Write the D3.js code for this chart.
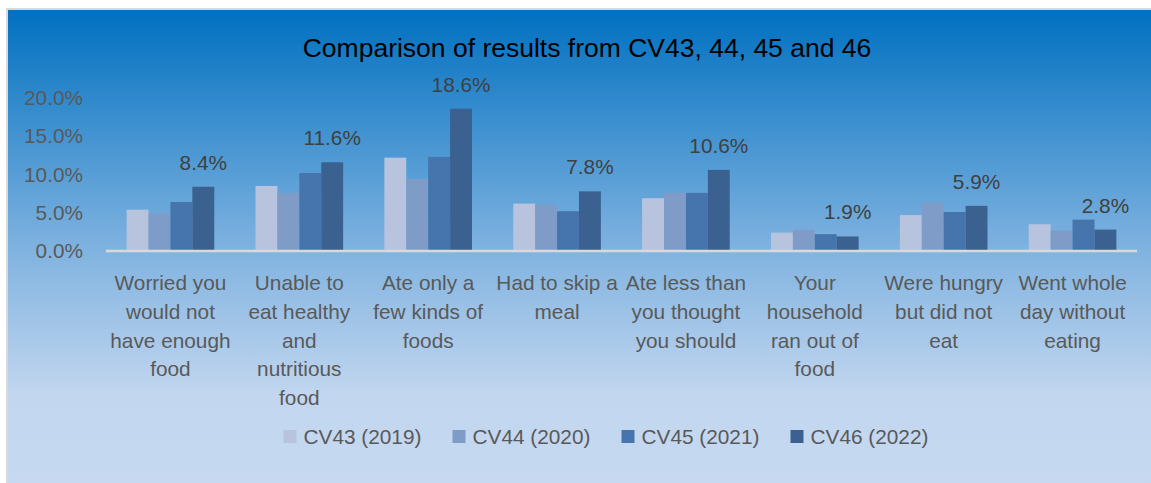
<!DOCTYPE html>
<html>
<head>
<meta charset="utf-8">
<script src="https://cdn.jsdelivr.net/npm/d3@7"></script>
<style>
  html, body { margin: 0; padding: 0; background: #ffffff; }
  svg { display: block; font-family: "Liberation Sans", Arial, sans-serif; }
</style>
</head>
<body>
<div id="canvas"></div>
<script>
"use strict"

/* Data */
let categories = [
    "Worried you\nwould not\nhave enough\nfood",
    "Unable to\neat healthy\nand\nnutritious\nfood",
    "Ate only a\nfew kinds of\nfoods",
    "Had to skip a\nmeal",
    "Ate less than\nyou thought\nyou should",
    "Your\nhousehold\nran out of\nfood",
    "Were hungry\nbut did not\neat",
    "Went whole\nday without\neating"
];
let seriesNames = ["CV43 (2019)", "CV44 (2020)", "CV45 (2021)", "CV46 (2022)"];
let cv43 = [0.054, 0.085, 0.122, 0.062, 0.069, 0.024, 0.047, 0.035];
let cv44 = [0.049, 0.076, 0.094, 0.060, 0.076, 0.028, 0.063, 0.027];
let cv45 = [0.064, 0.102, 0.123, 0.052, 0.076, 0.022, 0.051, 0.041];
let cv46 = [0.084, 0.116, 0.186, 0.078, 0.106, 0.019, 0.059, 0.028];
let yTicks = [0, 0.05, 0.10, 0.15, 0.20];
let titleText = "Comparison of results from CV43, 44, 45 and 46";

let seriesValues = [cv43, cv44, cv45, cv46];
let seriesColors = ["#b8c4dd", "#7f9cc8", "#4674ac", "#3b6191"];

/* Configuration variables: drawing */
let svgWidth = 1151;
let svgHeight = 483;
let plotLeft = 106;
let plotRight = 1137;
let plotTop = 98;
let plotBottom = 251;
let labelSize = 20.8;

let svg = d3.select("#canvas")
    .append("svg")
    .attr("width", svgWidth)
    .attr("height", svgHeight);

/* Background gradient of the chart area */
let grad = svg.append("defs")
    .append("linearGradient")
    .attr("id", "bg")
    .attr("x1", 0).attr("y1", 0)
    .attr("x2", 0).attr("y2", 1);
grad.append("stop").attr("offset", "0%").attr("stop-color", "#0070c0");
grad.append("stop").attr("offset", "50%").attr("stop-color", "#80b3e0");
grad.append("stop").attr("offset", "80%").attr("stop-color", "#c2d6ef");
grad.append("stop").attr("offset", "100%").attr("stop-color", "#c6d9f1");

svg.append("rect")
    .attr("x", 7)
    .attr("y", 9)
    .attr("width", svgWidth)
    .attr("height", svgHeight)
    .attr("fill", "url(#bg)")
    .attr("stroke", "#d9d9d9")
    .attr("stroke-width", 2);

/* Scales */
let xScale = d3.scaleBand()
    .domain(categories)
    .range([plotLeft, plotRight])
    .paddingInner(0.32)
    .paddingOuter(0.16);

let xInner = d3.scaleBand()
    .domain(seriesNames)
    .range([0, xScale.bandwidth()]);

let yScale = d3.scaleLinear()
    .domain([0, 0.2])
    .range([plotBottom, plotTop]);

/* Title */
svg.append("text")
    .attr("x", 587)
    .attr("y", 57)
    .attr("text-anchor", "middle")
    .attr("font-size", 26.5)
    .attr("fill", "#000000")
    .text(titleText);

/* Y axis labels */
let yAxis = svg.append("g")
    .attr("transform", "translate(83,0)")
    .call(d3.axisLeft(yScale)
        .tickValues(yTicks)
        .tickSize(0)
        .tickPadding(0)
        .tickFormat(d3.format(".1%")));
yAxis.select(".domain").remove();
yAxis.selectAll("text")
    .attr("font-size", labelSize)
    .attr("font-family", "Liberation Sans, Arial, sans-serif")
    .attr("fill", "#595959");

/* Bars */
let groups = svg.selectAll("g.cat")
    .data(categories)
    .join("g")
    .attr("class", "cat")
    .attr("transform", d => "translate(" + xScale(d) + ",0)");

groups.selectAll("rect")
    .data((d, i) => seriesNames.map((s, j) => ({series: s, idx: j, value: seriesValues[j][i]})))
    .join("rect")
    .attr("x", d => xInner(d.series))
    .attr("y", d => yScale(d.value))
    .attr("width", xInner.bandwidth())
    .attr("height", d => yScale(0) - yScale(d.value))
    .attr("fill", d => seriesColors[d.idx]);

/* Data labels for the last series */
svg.selectAll("text.dlabel")
    .data(cv46)
    .join("text")
    .attr("class", "dlabel")
    .attr("x", (d, i) => xScale(categories[i]) + xInner(seriesNames[3]) + xInner.bandwidth() / 2)
    .attr("y", d => yScale(d) - 17)
    .attr("text-anchor", "middle")
    .attr("font-size", labelSize)
    .attr("fill", "#404040")
    .text(d => d3.format(".1%")(d));

/* Category axis line */
svg.append("line")
    .attr("x1", plotLeft)
    .attr("x2", plotRight)
    .attr("y1", yScale(0))
    .attr("y2", yScale(0))
    .attr("stroke", "#d9d9d9")
    .attr("stroke-width", 2.5);

/* Category labels, one tspan per line */
let catLabels = svg.selectAll("text.cat")
    .data(categories)
    .join("text")
    .attr("class", "cat")
    .attr("text-anchor", "middle")
    .attr("font-size", labelSize)
    .attr("fill", "#595959");

catLabels.selectAll("tspan")
    .data(d => d.split("\n").map(line => ({line: line, cat: d})))
    .join("tspan")
    .attr("x", d => xScale(d.cat) + xScale.bandwidth() / 2)
    .attr("y", (d, i) => 290 + i * 28.8)
    .text(d => d.line);

/* Legend */
let legend = svg.selectAll("g.legend")
    .data(seriesNames)
    .join("g")
    .attr("class", "legend")
    .attr("transform", (d, i) => "translate(" + (283.5 + i * 169) + ",430)");

legend.append("rect")
    .attr("width", 13)
    .attr("height", 13)
    .attr("fill", (d, i) => seriesColors[i]);

legend.append("text")
    .attr("x", 20)
    .attr("y", 14)
    .attr("font-size", labelSize)
    .attr("fill", "#595959")
    .text(d => d);
</script>
</body>
</html>
